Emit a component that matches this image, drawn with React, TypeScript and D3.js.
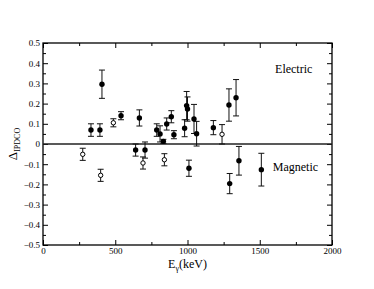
import * as d3 from "d3";
import { useEffect, useRef } from "react";

// filled symbols
const filledE = [332, 394, 408, 540, 641, 667, 706, 787, 810, 833, 856, 888, 906, 980, 994, 1000, 1010, 1045, 1063, 1179, 1287, 1292, 1336, 1356, 1511];
const filledV = [0.069, 0.069, 0.296, 0.14, -0.03, 0.129, -0.03, 0.069, 0.05, 0.013, 0.099, 0.135, 0.046, 0.078, 0.19, 0.173, -0.12, 0.124, 0.051, 0.081, 0.193, -0.196, 0.229, -0.083, -0.127];
const filledErr = [0.031, 0.031, 0.07, 0.02, 0.03, 0.04, 0.04, 0.031, 0.04, 0.01, 0.03, 0.03, 0.02, 0.042, 0.07, 0.06, 0.04, 0.072, 0.061, 0.035, 0.08, 0.05, 0.09, 0.071, 0.081];

// open symbols
const openE = [275, 399, 487, 692, 840, 1239];
const openV = [-0.051, -0.155, 0.105, -0.094, -0.078, 0.048];
const openErr = [0.03, 0.03, 0.02, 0.03, 0.03, 0.048];

const xTicks = [0, 500, 1000, 1500, 2000];
const xMinor = [250, 750, 1250, 1750];
const yTicks = [-0.5, -0.4, -0.3, -0.2, -0.1, 0, 0.1, 0.2, 0.3, 0.4, 0.5];
const yMinor = [-0.45, -0.35, -0.25, -0.15, -0.05, 0.05, 0.15, 0.25, 0.35, 0.45];

const W = 374;
const H = 289;
const margin = { top: 43, right: 42, bottom: 44, left: 43 };
const font = "'Liberation Serif', 'Times New Roman', serif";

const App = () => {
    const ref = useRef<SVGSVGElement>(null);

    useEffect(() => {
        const svg = d3.select(ref.current);
        svg.selectAll("*").remove();

        const bw = W - margin.left - margin.right;
        const bh = H - margin.top - margin.bottom;
        const x = d3.scaleLinear().domain([0, 2000]).range([0, bw]);
        const y = d3.scaleLinear().domain([-0.5, 0.5]).range([bh, 0]);

        const g = svg.append("g").attr("transform", `translate(${margin.left},${margin.top})`);

        // frame
        g.append("rect").attr("width", bw).attr("height", bh)
            .attr("fill", "none").attr("stroke", "#000").attr("stroke-width", 1.3);

        const fmtY = (d: number) => (d === 0 ? "0" : d3.format(".1f")(d));

        // bottom
        const bot = g.append("g").attr("transform", `translate(0,${bh})`)
            .call(d3.axisBottom(x).tickValues(xTicks).tickSizeInner(-5).tickSizeOuter(0).tickPadding(3).tickFormat(d3.format("d")));
        g.append("g").attr("transform", `translate(0,${bh})`)
            .call(d3.axisBottom(x).tickValues(xMinor).tickSizeInner(-3).tickSizeOuter(0).tickFormat(() => ""));
        // top
        g.append("g").call(d3.axisTop(x).tickValues(xTicks).tickSizeInner(-5).tickSizeOuter(0).tickFormat(() => ""));
        g.append("g").call(d3.axisTop(x).tickValues(xMinor).tickSizeInner(-3).tickSizeOuter(0).tickFormat(() => ""));
        // left
        const lef = g.append("g")
            .call(d3.axisLeft(y).tickValues(yTicks).tickSizeInner(-5).tickSizeOuter(0).tickPadding(3).tickFormat(fmtY as any));
        g.append("g").call(d3.axisLeft(y).tickValues(yMinor).tickSizeInner(-3).tickSizeOuter(0).tickFormat(() => ""));
        // right
        g.append("g").attr("transform", `translate(${bw},0)`)
            .call(d3.axisRight(y).tickValues(yTicks).tickSizeInner(-5).tickSizeOuter(0).tickFormat(() => ""));
        g.append("g").attr("transform", `translate(${bw},0)`)
            .call(d3.axisRight(y).tickValues(yMinor).tickSizeInner(-3).tickSizeOuter(0).tickFormat(() => ""));

        g.selectAll(".domain").remove();
        g.selectAll(".tick line").attr("stroke", "#000");
        bot.selectAll("text").attr("font-family", font).attr("font-size", 9).attr("fill", "#000");
        lef.selectAll("text").attr("font-family", font).attr("font-size", 9).attr("fill", "#000");

        // zero line
        g.append("line").attr("x1", 0).attr("x2", bw).attr("y1", y(0)).attr("y2", y(0))
            .attr("stroke", "#222").attr("stroke-width", 1.3);

        const cap = 3;
        const drawErr = (es: number[], vs: number[], errs: number[]) => {
            const eg = g.append("g").attr("stroke", "#111").attr("stroke-width", 1);
            es.forEach((e, i) => {
                const cx = x(e);
                const y1 = y(vs[i] + errs[i]);
                const y2 = y(vs[i] - errs[i]);
                eg.append("line").attr("x1", cx).attr("x2", cx).attr("y1", y1).attr("y2", y2);
                eg.append("line").attr("x1", cx - cap).attr("x2", cx + cap).attr("y1", y1).attr("y2", y1);
                eg.append("line").attr("x1", cx - cap).attr("x2", cx + cap).attr("y1", y2).attr("y2", y2);
            });
        };
        drawErr(openE, openV, openErr);
        drawErr(filledE, filledV, filledErr);

        g.selectAll(".open").data(openE).enter().append("circle")
            .attr("cx", d => x(d)).attr("cy", (d, i) => y(openV[i])).attr("r", 2.2)
            .attr("fill", "#fff").attr("stroke", "#000").attr("stroke-width", 1);
        g.selectAll(".filled").data(filledE).enter().append("circle")
            .attr("cx", d => x(d)).attr("cy", (d, i) => y(filledV[i])).attr("r", 2.7)
            .attr("fill", "#000");

        // annotations
        g.append("text").attr("x", x(1735)).attr("y", y(0.35)).attr("text-anchor", "middle")
            .attr("font-family", font).attr("font-size", 12).text("Electric");
        g.append("text").attr("x", x(1747)).attr("y", y(-0.135)).attr("text-anchor", "middle")
            .attr("font-family", font).attr("font-size", 12).text("Magnetic");

        // x label
        const xl = svg.append("text").attr("x", margin.left + bw / 2).attr("y", 268)
            .attr("text-anchor", "middle").attr("font-family", font).attr("font-size", 12);
        xl.append("tspan").text("E");
        xl.append("tspan").attr("font-size", 8).attr("dy", 3).text("γ");
        xl.append("tspan").attr("dy", -3).text("(keV)");

        // y label
        const yl = svg.append("text").attr("transform", `translate(17,${margin.top + bh / 2}) rotate(-90)`)
            .attr("text-anchor", "middle").attr("font-family", font).attr("font-size", 13);
        yl.append("tspan").text("Δ");
        yl.append("tspan").attr("font-size", 8).attr("dy", 3).text("IPDCO");
    }, []);

    return (
        <svg ref={ref} width={W} height={H} style={{ position: "absolute", left: 0, top: 0, background: "#fff" }}></svg>
    );
};

export default App;
